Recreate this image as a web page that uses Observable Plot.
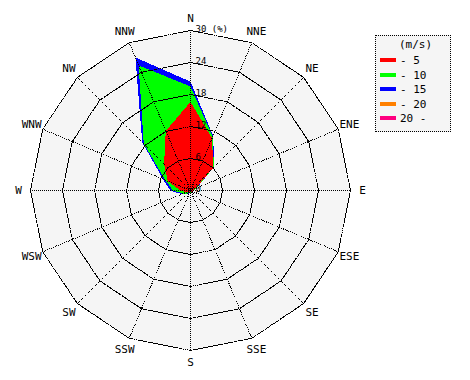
<!DOCTYPE html>
<html><head><meta charset="utf-8">
<script src="https://cdn.jsdelivr.net/npm/d3@7"></script>
<script src="https://cdn.jsdelivr.net/npm/@observablehq/plot@0.6"></script>
<style>
body{margin:0;background:#fff;}
#wrap{position:relative;width:470px;height:380px;}
#legend{position:absolute;left:375px;top:35px;width:76px;height:97px;box-sizing:border-box;border:1px dotted #000;background:#f5f5f5;font:11px "DejaVu Sans Mono",monospace;color:#000;}
#legend .t{position:absolute;left:23px;top:2px;}
#legend .row{position:absolute;left:4px;height:14px;line-height:14px;}
#legend .sw{display:inline-block;width:16px;height:4px;vertical-align:middle;margin-right:4px;position:relative;top:-1px;}
</style></head><body><div id="wrap"></div>
<script>
const directions = ["N","NNE","NE","ENE","E","ESE","SE","SSE","S","SSW","SW","WSW","W","WNW","NW","NNW"];
const speedLabels = ["- 5","- 10","- 15","- 20","20 -"];
const speedColors = ["#ff0000","#00ff00","#0000ff","#ff8000","#ff0080"];
const ringTicks = [6,12,18,24,30];
// cumulative frequency (%) per direction
const upTo5  = [16.6,10.6,6.0,1.0,0.5,0.3,0.3,0.3,0.3,0.4,0.5,0.8,1.9,4.6,7.0,12.1];
const upTo10 = [19.5,10.9,6.2,1.2,0.6,0.4,0.4,0.4,0.4,0.5,0.8,1.5,3.3,5.1,12.4,25.4];
const upTo15 = [20.4,11.1,6.3,1.3,0.6,0.4,0.4,0.4,0.5,0.6,1.0,1.8,3.8,5.6,12.8,27.0];
const upTo20 = [20.4,11.1,6.3,1.3,0.6,0.4,0.4,0.4,0.5,0.6,1.0,1.8,3.8,5.6,12.8,27.0];
const over20 = [20.4,11.1,6.3,1.3,0.6,0.4,0.4,0.4,0.5,0.6,1.0,1.8,3.8,5.6,12.8,27.0];

const step = 2 * Math.PI / directions.length;
const px = (r, i) => r * Math.sin(i * step);
const py = (r, i) => r * Math.cos(i * step);
const poly = (vals) => vals.map((r, i) => ({x: px(r, i), y: py(r, i)}));
const ringPoly = (r) => directions.map((d, i) => ({x: px(r, i), y: py(r, i)}));
const maxR = ringTicks[ringTicks.length - 1];

const series = [over20, upTo20, upTo15, upTo10, upTo5];
const seriesColors = [speedColors[4], speedColors[3], speedColors[2], speedColors[1], speedColors[0]];

const marks = [];
marks.push(Plot.line(ringPoly(maxR), {x: "x", y: "y", curve: "linear-closed", fill: "#f5f5f5", stroke: "none"}));
series.forEach((s, k) => {
  marks.push(Plot.line(poly(s), {x: "x", y: "y", curve: "linear-closed", fill: seriesColors[k], stroke: "none", shapeRendering: "crispEdges"}));
});
ringTicks.forEach(t => {
  marks.push(Plot.line(ringPoly(t), {x: "x", y: "y", curve: "linear-closed", fill: "none", stroke: "#000", strokeWidth: 1, strokeDasharray: "1,1", shapeRendering: "crispEdges"}));
});
marks.push(Plot.link(directions, {x1: () => 0, y1: () => 0, x2: (d, i) => px(maxR, i), y2: (d, i) => py(maxR, i), stroke: "#000", strokeWidth: 1, strokeDasharray: "1,1", shapeRendering: "crispEdges"}));
marks.push(Plot.text(directions, {x: (d, i) => px(maxR * 172 / 160, i), y: (d, i) => py(maxR * 172 / 160, i), text: d => d, fontSize: 11, fill: "#000"}));
marks.push(Plot.text([0, ...ringTicks], {x: () => 0, y: d => d, text: d => d === maxR ? d + " (%)" : String(d), dx: 5, dy: 1, textAnchor: "start", lineAnchor: "bottom", fontSize: 9, fill: "#000"}));

const chart = Plot.plot({
  width: 470, height: 380,
  margin: 0,
  x: {domain: [-maxR, maxR], range: [30, 350], axis: null},
  y: {domain: [-maxR, maxR], range: [350, 30], axis: null},
  style: {fontFamily: "'DejaVu Sans Mono', monospace", background: "transparent", overflow: "visible"},
  marks
});
const wrap = document.getElementById("wrap");
wrap.appendChild(chart);

const lg = document.createElement("div");
lg.id = "legend";
let html = '<div class="t">(m/s)</div>';
speedLabels.forEach((l, i) => {
  html += `<div class="row" style="top:${18 + i * 14.5}px"><span class="sw" style="background:${speedColors[i]}"></span>${l}</div>`;
});
lg.innerHTML = html;
wrap.appendChild(lg);
</script></body></html>
